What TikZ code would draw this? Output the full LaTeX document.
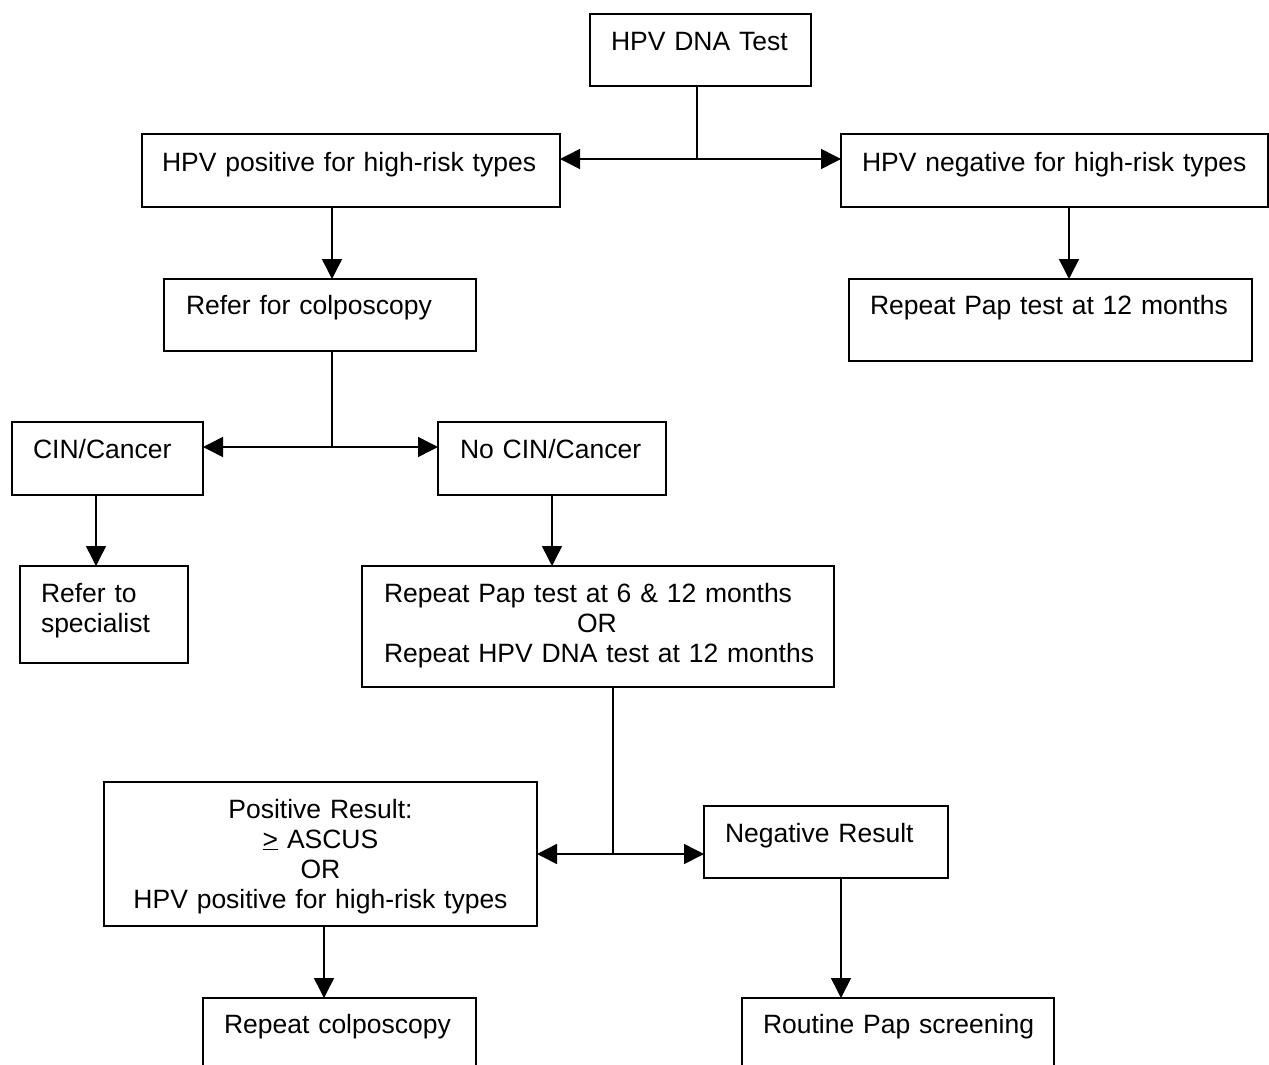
\documentclass[tikz,border=0pt]{standalone}
\usepackage{fontspec}
\setmainfont{Liberation Sans}
\usetikzlibrary{arrows.meta}
\newcommand\fs{\fontsize{26.5}{30}\selectfont}
\tikzset{
  box/.style={draw, line width=1.5pt, anchor=north west, inner ysep=0pt, outer sep=0pt, font=\fs},
  ln/.style={line width=1.5pt},
  arr/.style={line width=1.5pt, -{Triangle[length=20pt,width=20pt]}}
}
\newcommand\bx[9]{%
  \pgfmathsetmacro\tw{#4-#2-2*#6}%
  \pgfmathsetmacro\th{#7-#3}%
  \pgfmathsetmacro\td{#5-#7}%
  \node[box,#9,inner xsep=#6pt,text width=\tw pt,text height=\th pt,text depth=\td pt] (#1) at (#2,#3) {#8};}
\begin{document}
\begin{tikzpicture}[x=1pt,y=-1pt]
\useasboundingbox (0,0) rectangle (1269,1065);
\clip (0,0) rectangle (1269,1065);
\fill[white] (0,0) rectangle (1269,1065);
\bx{dna}{590}{14}{811}{86}{21}{50.5}{\mbox{HPV DNA Test}}{align=left}
\bx{pos}{142}{134}{560}{207}{20}{171}{\mbox{HPV positive for high-risk types}}{align=left}
\bx{neg}{841}{134}{1268}{207}{21}{171}{\mbox{HPV negative for high-risk types}}{align=left}
\bx{refer}{164}{279}{476}{351}{22}{314.5}{\mbox{Refer for colposcopy}}{align=left}
\bx{rep12}{849}{279}{1252}{361}{21}{314}{\mbox{Repeat Pap test at 12 months}}{align=left}
\bx{cin}{12}{422}{203}{495}{21}{458.5}{\mbox{CIN/Cancer}}{align=left}
\bx{nocin}{438}{422}{666}{495}{22}{458.5}{\mbox{No CIN/Cancer}}{align=left}
\bx{spec}{20}{566}{188}{663}{21}{602}{Refer to\\specialist}{align=left}
\bx{rep612}{362}{566}{834}{687}{22}{602}{\mbox{Repeat Pap test at 6 \& 12 months}\\\mbox{\hspace*{193pt}OR}\\\mbox{Repeat HPV DNA test at 12 months}}{align=left}
\bx{posr}{104}{782}{537}{926}{20}{818}{Positive Result:\\\underline{>} ASCUS\\OR\\HPV positive for high-risk types}{align=center}
\bx{negr}{704}{806}{948}{878}{21}{842}{\mbox{Negative Result}}{align=left}
\bx{repc}{203}{998}{476}{1095}{21}{1033}{\mbox{Repeat colposcopy}}{align=left}
\bx{rout}{742}{998}{1054}{1095}{21}{1033}{\mbox{Routine Pap screening}}{align=left}
% junctions and columns
\coordinate (j1) at (697,159);
\coordinate (j2) at (332,447);
\coordinate (j3) at (613,854);
\coordinate (c1) at (332,0);
\coordinate (c2) at (96,0);
\coordinate (c3) at (552,0);
\coordinate (c4) at (1069,0);
\coordinate (c5) at (324,0);
\coordinate (c6) at (841,0);
% connectors
\draw[ln] (dna.south -| j1) -- (j1);
\draw[arr] (j1) -- (j1 -| pos.east);
\draw[arr] (j1) -- (j1 -| neg.west);
\draw[arr] (pos.south -| c1) -- (refer.north -| c1);
\draw[arr] (neg.south -| c4) -- (rep12.north -| c4);
\draw[ln] (refer.south -| j2) -- (j2);
\draw[arr] (j2) -- (j2 -| cin.east);
\draw[arr] (j2) -- (j2 -| nocin.west);
\draw[arr] (cin.south -| c2) -- (spec.north -| c2);
\draw[arr] (nocin.south -| c3) -- (rep612.north -| c3);
\draw[ln] (rep612.south -| j3) -- (j3);
\draw[arr] (j3) -- (j3 -| posr.east);
\draw[arr] (j3) -- (j3 -| negr.west);
\draw[arr] (posr.south -| c5) -- (repc.north -| c5);
\draw[arr] (negr.south -| c6) -- (rout.north -| c6);
\end{tikzpicture}
\end{document}
